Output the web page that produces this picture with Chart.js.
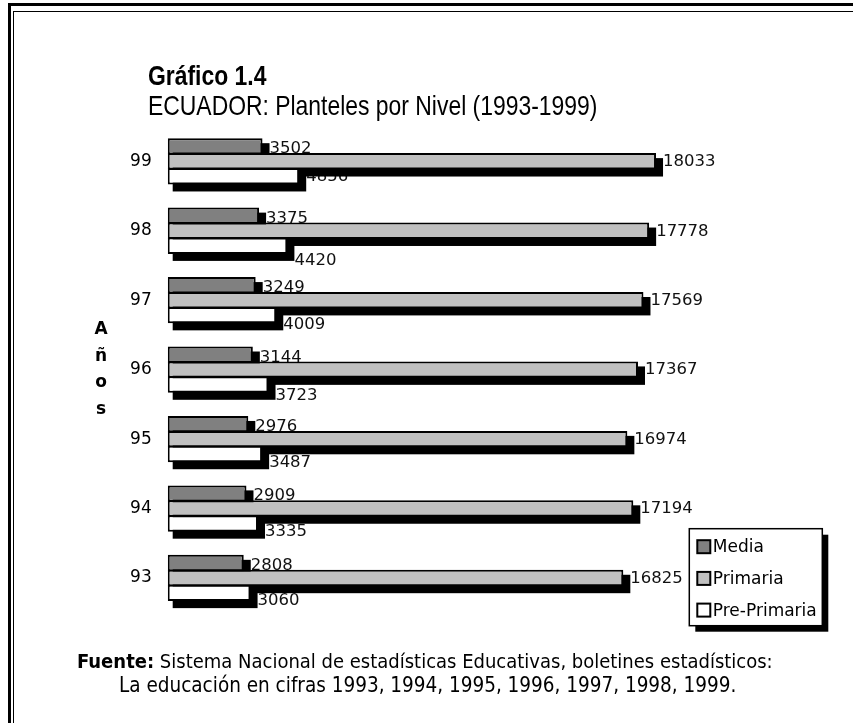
<!DOCTYPE html>
<html>
<head>
<meta charset="utf-8">
<script src="https://cdn.jsdelivr.net/npm/chart.js@4/dist/chart.umd.min.js"></script>
<style>
html,body{margin:0;padding:0;background:#fff;}
#wrap{position:relative;width:853px;height:723px;overflow:hidden;background:#fff;}
#frameOuter{position:absolute;left:8px;top:3px;width:900px;height:800px;border-left:3px solid #000;border-top:3px solid #000;}
#frameInner{position:absolute;left:13px;top:11px;width:900px;height:800px;border-left:1.5px solid #000;border-top:1.5px solid #000;}
canvas{position:absolute;left:0;top:0;}
.t{position:absolute;white-space:nowrap;color:#000;line-height:1;}
.narrow{font-family:"DejaVu Sans Condensed","DejaVu Sans",sans-serif;font-stretch:condensed;}
.squeezed{font-family:"Liberation Sans",Arial,sans-serif;transform-origin:0 0;transform:scaleX(0.818);}
#title{left:148px;top:62px;font-size:28px;font-weight:bold;}
#subtitle{left:148px;top:92px;font-size:28px;}
#foot1{left:77px;top:651px;font-size:20px;}
#foot2{left:119px;top:675px;font-size:20.5px;}
#axisTitle{position:absolute;left:86px;top:315px;width:30px;text-align:center;font-family:"DejaVu Sans",sans-serif;font-weight:bold;font-size:17px;line-height:26.7px;}
</style>
</head>
<body>
<div id="wrap">
  <div id="frameOuter"></div>
  <div id="frameInner"></div>
  <canvas id="c" width="853" height="723"></canvas>
  <div class="t squeezed" id="title">Gráfico 1.4</div>
  <div class="t squeezed" id="subtitle">ECUADOR: Planteles por Nivel (1993-1999)</div>
  <div id="axisTitle">A<br>ñ<br>o<br>s</div>
  <div class="t narrow" id="foot1"><b>Fuente:</b> Sistema Nacional de estadísticas Educativas, boletines estadísticos:</div>
  <div class="t narrow" id="foot2">La educación en cifras 1993, 1994, 1995, 1996, 1997, 1998, 1999.</div>
</div>
<script>
// ---- data ----
const categories = ['93', '94', '95', '96', '97', '98', '99'];
const seriesNames = ['Media', 'Primaria', 'Pre-Primaria'];
const media = [2808, 2909, 2976, 3144, 3249, 3375, 3502];
const primaria = [16825, 17194, 16974, 17367, 17569, 17778, 18033];
const prePrimaria = [3060, 3335, 3487, 3723, 4009, 4420, 4856];

// ---- plugins ----
const barDecor = {
  id: 'barDecor',
  beforeDatasetsDraw(chart, args, o) {
    const ctx = chart.ctx;
    ctx.save();
    ctx.font = o.font;
    ctx.fillStyle = '#111';
    ctx.textAlign = 'left';
    ctx.textBaseline = 'middle';
    chart.data.datasets.forEach((ds, di) => {
      const meta = chart.getDatasetMeta(di);
      meta.data.forEach((bar, i) => {
        const nudge = o.labelDy[di];
        const dy = Array.isArray(nudge) ? nudge[i] : nudge;
        ctx.fillText(String(ds.data[i]), bar.x + o.labelDx, bar.y + dy);
      });
    });
    ctx.fillStyle = '#000';
    chart.data.datasets.forEach((ds, di) => {
      const meta = chart.getDatasetMeta(di);
      meta.data.forEach((bar) => {
        const top = bar.y - bar.height / 2;
        ctx.fillRect(bar.base + o.shadowX, top + o.shadowY, (bar.x - bar.base) + o.shadowGrow, bar.height + o.shadowGrow);
      });
    });
    ctx.restore();
  }
};

const boxLegend = {
  id: 'boxLegend',
  afterDraw(chart, args, o) {
    const ctx = chart.ctx;
    const ca = chart.chartArea;
    const x = ca.right + o.dxFromRight, y = ca.bottom + o.dyFromBottom;
    ctx.save();
    ctx.fillStyle = '#000';
    ctx.fillRect(x + o.shadow, y + o.shadow, o.w, o.h);
    ctx.fillStyle = '#fff';
    ctx.fillRect(x, y, o.w, o.h);
    ctx.lineWidth = 1.5;
    ctx.strokeStyle = '#000';
    ctx.strokeRect(x, y, o.w, o.h);
    ctx.font = o.font;
    ctx.textBaseline = 'middle';
    ctx.textAlign = 'left';
    chart.data.datasets.forEach((ds, i) => {
      const cy = y + o.firstY + i * o.step;
      ctx.fillStyle = ds.backgroundColor;
      ctx.fillRect(x + o.markerX, cy - o.marker / 2, o.marker, o.marker);
      ctx.lineWidth = 2;
      ctx.strokeRect(x + o.markerX, cy - o.marker / 2, o.marker, o.marker);
      ctx.fillStyle = '#000';
      ctx.fillText(ds.label, x + o.textX, cy + 1);
    });
    ctx.restore();
  }
};

const colors = ['#808080', '#c0c0c0', '#ffffff'];
const seriesData = [media, primaria, prePrimaria];

new Chart(document.getElementById('c'), {
  type: 'bar',
  data: {
    labels: categories,
    datasets: seriesNames.map((name, i) => ({
      label: name,
      data: seriesData[i],
      backgroundColor: colors[i],
      borderColor: '#000',
      borderWidth: 2,
      borderSkipped: false,
      categoryPercentage: 0.645,
      barPercentage: 1.1
    }))
  },
  options: {
    indexAxis: 'y',
    responsive: false,
    animation: false,
    devicePixelRatio: 1,
    layout: { padding: { left: 107.7, top: 126.6, right: 143.7, bottom: 110.3 } },
    scales: {
      x: { display: false, min: 0, max: 20000 },
      y: {
        reverse: true,
        grid: { display: false, drawTicks: false },
        border: { display: false },
        ticks: { font: { family: 'DejaVu Sans', size: 17 }, color: '#000', padding: 16 },
        afterFit(s) { s.width = 60; }
      }
    },
    plugins: {
      legend: { display: false },
      tooltip: { enabled: false },
      barDecor: {
        font: '16.5px "DejaVu Sans"',
        labelDx: 7,
        labelDy: [2.5, 0.5, [8, 8, 8.8, 11.6, 9.8, 15, 0.4]],
        shadowX: 5, shadowY: 5, shadowGrow: 2
      },
      boxLegend: {
        dxFromRight: -20, dyFromBottom: -84,
        w: 133, h: 97, shadow: 6,
        firstY: 18, step: 31.7, marker: 13, markerX: 8, textX: 23.5,
        font: '17px "DejaVu Sans"'
      }
    }
  },
  plugins: [barDecor, boxLegend]
});
</script>
</body>
</html>
